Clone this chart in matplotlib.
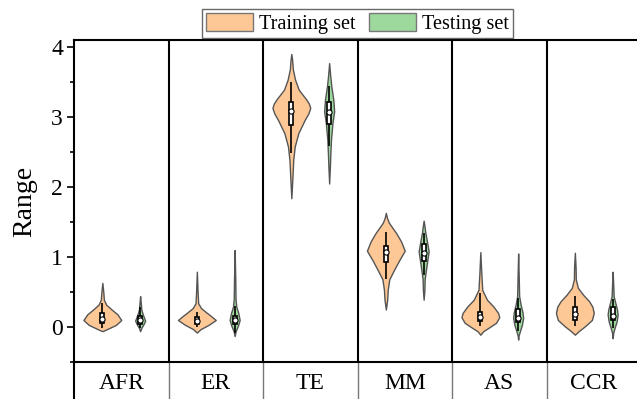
import numpy as np
import matplotlib
matplotlib.use("Agg")
import matplotlib.pyplot as plt
from matplotlib.patches import Patch

plt.rcParams['font.family'] = ['Liberation Serif', 'DejaVu Serif']

categories = ['AFR', 'ER', 'TE', 'MM', 'AS', 'CCR']

# violin outlines: y knots and relative density
train_y = [
    [-0.06, -0.03, 0.03, 0.10, 0.18, 0.25, 0.32, 0.39, 0.50, 0.63],
    [-0.08, -0.03, 0.03, 0.10, 0.15, 0.20, 0.27, 0.34, 0.50, 0.79],
    [1.84, 2.10, 2.39, 2.58, 2.77, 2.96, 3.05, 3.13, 3.19, 3.25, 3.39, 3.53, 3.68, 3.82, 3.90],
    [0.25, 0.39, 0.53, 0.68, 0.82, 0.96, 1.09, 1.22, 1.34, 1.49, 1.56, 1.63],
    [-0.11, -0.06, -0.01, 0.06, 0.14, 0.20, 0.29, 0.39, 0.53, 0.77, 1.07],
    [-0.11, -0.06, 0.01, 0.10, 0.20, 0.29, 0.37, 0.46, 0.56, 0.68, 0.85, 1.06],
]
train_d = [
    [0, 0.25, 0.72, 1.0, 0.80, 0.49, 0.20, 0.08, 0.05, 0],
    [0, 0.20, 0.62, 1.0, 0.78, 0.54, 0.22, 0.07, 0.04, 0],
    [0, 0.05, 0.10, 0.18, 0.37, 0.71, 0.90, 1.0, 0.93, 0.79, 0.39, 0.20, 0.08, 0.04, 0],
    [0, 0.07, 0.10, 0.18, 0.44, 0.72, 1.0, 0.81, 0.55, 0.16, 0.06, 0],
    [0, 0.15, 0.44, 0.83, 1.0, 0.94, 0.70, 0.35, 0.10, 0.05, 0],
    [0, 0.20, 0.53, 0.90, 1.0, 0.93, 0.75, 0.44, 0.16, 0.05, 0.04, 0],
]
test_y = [
    [-0.06, -0.01, 0.03, 0.09, 0.18, 0.25, 0.35, 0.44],
    [-0.13, -0.06, 0.02, 0.10, 0.20, 0.29, 0.40, 0.70, 1.10],
    [2.05, 2.29, 2.49, 2.68, 2.92, 3.08, 3.25, 3.44, 3.60, 3.77],
    [0.39, 0.53, 0.68, 0.77, 0.92, 1.08, 1.22, 1.35, 1.45, 1.52],
    [-0.18, -0.12, -0.06, 0.03, 0.13, 0.21, 0.32, 0.44, 0.70, 1.05],
    [-0.16, -0.08, -0.01, 0.08, 0.18, 0.25, 0.34, 0.44, 0.60, 0.79],
]
test_d = [
    [0, 0.25, 0.60, 1.0, 0.53, 0.23, 0.12, 0],
    [0, 0.20, 0.67, 1.0, 0.73, 0.33, 0.18, 0.12, 0],
    [0, 0.15, 0.25, 0.37, 0.67, 1.0, 0.83, 0.43, 0.20, 0],
    [0, 0.15, 0.20, 0.37, 0.67, 1.0, 0.67, 0.33, 0.15, 0],
    [0, 0.10, 0.35, 0.75, 1.0, 0.87, 0.50, 0.20, 0.12, 0],
    [0, 0.12, 0.40, 0.80, 1.0, 0.87, 0.55, 0.20, 0.12, 0],
]

# box stats
train_q1 = [0.06, 0.05, 2.88, 0.93, 0.08, 0.10]
train_med = [0.12, 0.09, 3.09, 1.07, 0.15, 0.19]
train_q3 = [0.20, 0.14, 3.21, 1.16, 0.22, 0.29]
train_lo = [-0.01, 0.00, 2.49, 0.68, 0.01, 0.01]
train_hi = [0.34, 0.22, 3.50, 1.36, 0.49, 0.44]
test_q1 = [0.05, 0.04, 2.90, 0.95, 0.07, 0.10]
test_med = [0.10, 0.10, 3.07, 1.06, 0.13, 0.16]
test_q3 = [0.16, 0.16, 3.21, 1.18, 0.26, 0.28]
test_lo = [-0.02, -0.08, 2.58, 0.75, -0.05, -0.02]
test_hi = [0.28, 0.30, 3.44, 1.35, 0.42, 0.40]

train_color = '#FDC896'
test_color = '#9DD89D'
edge_color = '#555555'

fig = plt.figure(figsize=(6.37, 3.99), dpi=100)
ax = fig.add_axes([74 / 637, 37 / 399, 567 / 637, 322 / 399])

x = np.arange(len(categories))


def draw_group(pos, ys, ds, width, color, q1, med, q3, lo, hi):
    stats = []
    for yy, dd in zip(ys, ds):
        yy = np.array(yy)
        stats.append(dict(coords=yy, vals=np.array(dd), mean=np.mean(yy),
                          median=np.median(yy), min=yy.min(), max=yy.max()))
    parts = ax.violin(stats, positions=pos, widths=width,
                      showmeans=False, showextrema=False, showmedians=False)
    for b in parts['bodies']:
        b.set_facecolor(color)
        b.set_edgecolor(edge_color)
        b.set_linewidth(1.0)
        b.set_alpha(1)
    ax.vlines(pos, lo, hi, color='black', lw=1.2, zorder=3)
    ax.bar(pos, np.array(q3) - np.array(q1), bottom=q1, width=0.045,
           color='white', edgecolor='black', linewidth=1.2, zorder=4)
    ax.scatter(pos, med, s=14, color='white', edgecolors='black',
               linewidths=0.8, zorder=5)


draw_group(x - 0.2, train_y, train_d, 0.40, train_color,
           train_q1, train_med, train_q3, train_lo, train_hi)
draw_group(x + 0.2, test_y, test_d, 0.106, test_color,
           test_q1, test_med, test_q3, test_lo, test_hi)

ax.set_xlim(-0.5, len(categories) - 0.5)
ax.set_ylim(-0.5, 4.1)
ax.set_xticks(x)
ax.set_xticklabels(categories, fontsize=17)
ax.tick_params(axis='x', length=0, pad=8)
ax.set_yticks([0, 1, 2, 3, 4])
ax.set_yticks(np.arange(-0.5, 4.0, 1.0), minor=True)
ax.tick_params(axis='y', which='major', length=5, width=1.2, labelsize=17, pad=3)
ax.tick_params(axis='y', which='minor', length=3, width=1.2)
ax.set_ylabel('Range', fontsize=20, labelpad=10)
for s in ax.spines.values():
    s.set_linewidth(1.5)

# category separators
for b in x[:-1] + 0.5:
    ax.axvline(b, color='black', lw=1.5, zorder=1)
    ax.axvline(b, ymin=-0.115, ymax=0, color='#777777', lw=1.0, clip_on=False)
ax.axvline(-0.5, ymin=-0.115, ymax=0, color='black', lw=1.5, clip_on=False)

handles = [Patch(facecolor=train_color, edgecolor='#777777', label='Training set'),
           Patch(facecolor=test_color, edgecolor='#777777', label='Testing set')]
leg = ax.legend(handles=handles, loc='lower center', bbox_to_anchor=(0.5, 1.0),
                ncol=2, fontsize=14.6, frameon=True, fancybox=False,
                handlelength=2.3, handleheight=1.05, handletextpad=0.3,
                columnspacing=0.7, borderpad=0.2, borderaxespad=0.1)
leg.get_frame().set_edgecolor('#444444')
leg.get_frame().set_linewidth(1.0)

fig.savefig('out.png', dpi=100)
